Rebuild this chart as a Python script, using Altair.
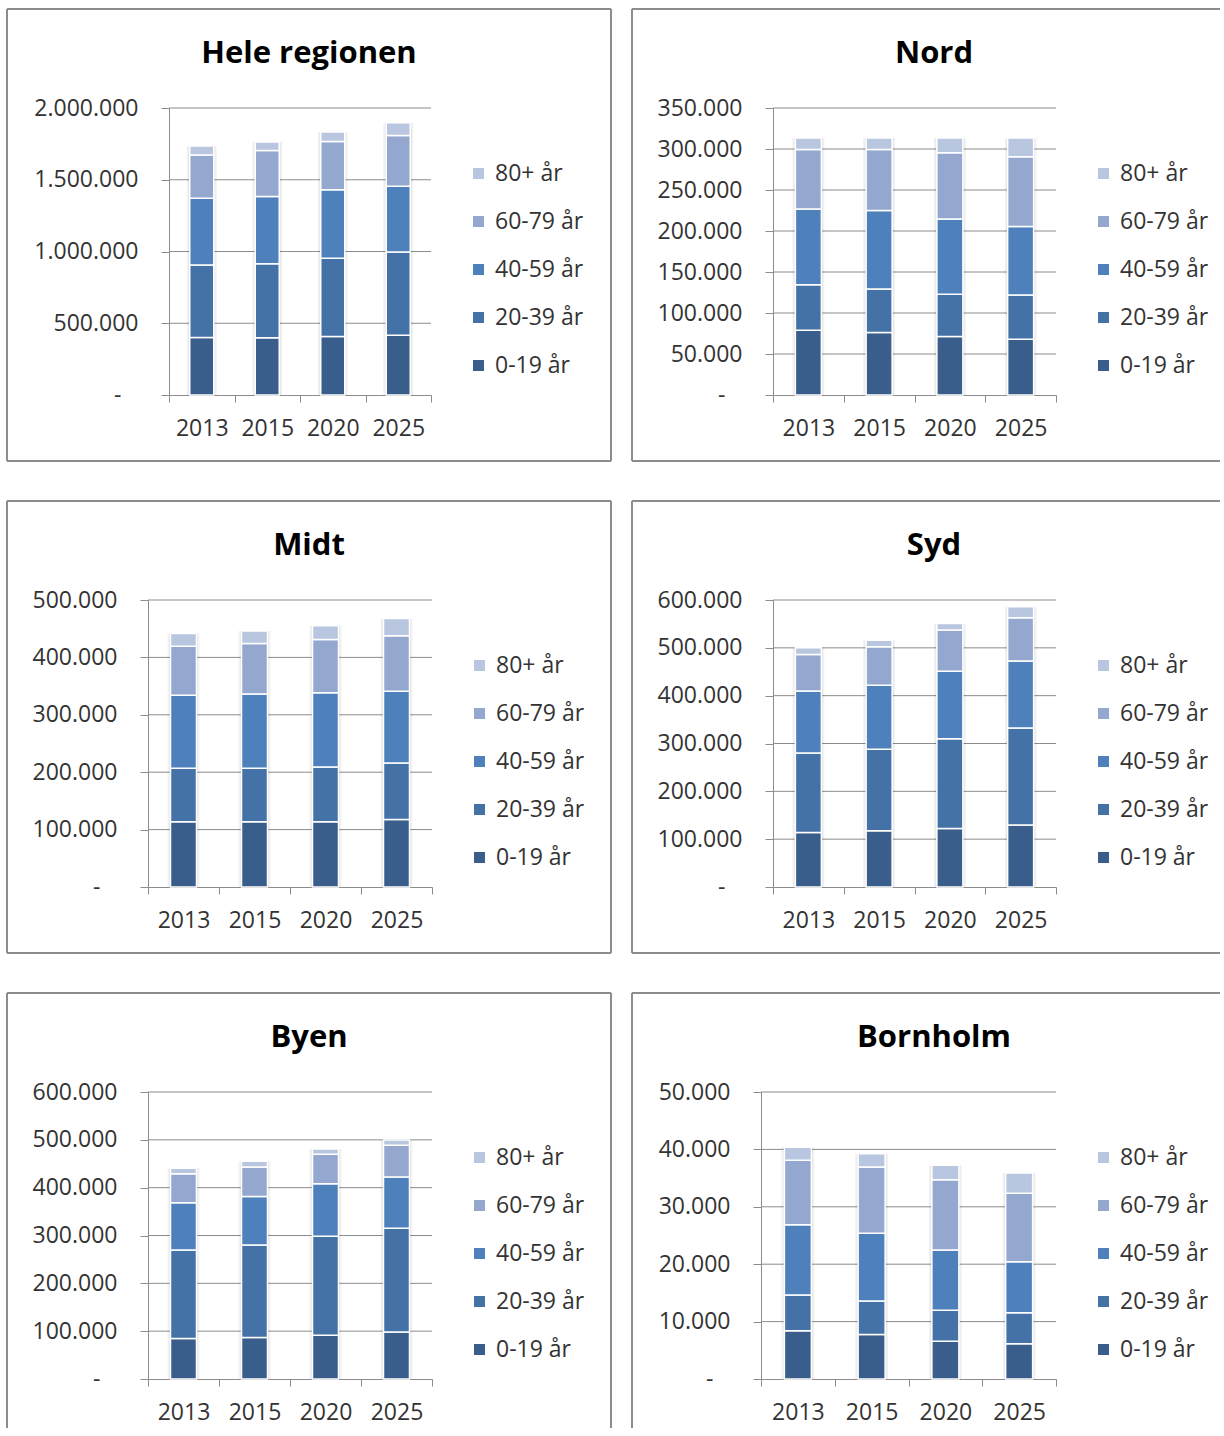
import altair as alt
import pandas as pd

YEARS = ["2013", "2015", "2020", "2025"]
AGES = ["0-19 år", "20-39 år", "40-59 år", "60-79 år", "80+ år"]
LEGEND_ORDER = ["80+ år", "60-79 år", "40-59 år", "20-39 år", "0-19 år"]
COLORS = ["#B9C6E0", "#94A8CF", "#4E80BC", "#4472A7", "#3A5E8B"]

# rows follow AGES (0-19, 20-39, 40-59, 60-79, 80+), columns follow YEARS
HELE = [
    [400500, 398100, 407500, 416800],
    [505200, 516900, 544800, 579700],
    [465700, 468000, 477300, 458700],
    [300300, 321300, 337600, 353900],
    [62900, 58200, 65200, 88500],
]
NORD = [
    [79000, 76200, 71300, 68000],
    [55500, 53000, 51700, 53800],
    [92400, 95700, 91700, 83600],
    [72600, 74600, 80700, 85100],
    [13800, 13800, 17900, 22800],
]
MIDT = [
    [113600, 113600, 113600, 117700],
    [93300, 93300, 95600, 98500],
    [127000, 129300, 129400, 124700],
    [85700, 88000, 92600, 96700],
    [22100, 21600, 23900, 30300],
]
SYD = [
    [114000, 117500, 122400, 129400],
    [166400, 170600, 187400, 202800],
    [129400, 133600, 141200, 140500],
    [76200, 80400, 86100, 90200],
    [14000, 14000, 13900, 23100],
]
BYEN = [
    [84700, 86800, 91700, 98000],
    [184800, 193200, 206500, 217000],
    [98800, 101600, 110000, 107200],
    [60900, 61600, 61600, 66500],
    [11200, 11900, 11200, 11200],
]
BORNHOLM = [
    [8400, 7760, 6590, 6130],
    [6240, 5830, 5370, 5420],
    [12250, 11790, 10500, 8870],
    [11210, 11550, 12250, 11960],
    [2270, 2330, 2510, 3500],
]

TITLES = ["Hele regionen", "Nord", "Midt", "Syd", "Byen", "Bornholm"]
SERIES = [HELE, NORD, MIDT, SYD, BYEN, BORNHOLM]
Y_MAX = [2000000, 350000, 500000, 600000, 600000, 50000]
Y_STEP = [500000, 50000, 100000, 100000, 100000, 10000]

# layout (page pixels): panel box (left, top, right, bottom) and plot box
PANEL_BOX = [
    (7, 9, 611, 461), (632, 9, None, 461),
    (7, 501, 611, 953), (632, 501, None, 953),
    (7, 993, 611, None), (632, 993, None, None),
]
PLOT_BOX = [
    (169, 108, 431, 395), (773, 108, 1056, 395),
    (148, 600, 432, 887), (773, 600, 1056, 887),
    (148, 1092, 432, 1379), (761, 1092, 1056, 1379),
]
PAGE_RIGHT = 1220
PAGE_BOTTOM = 1428
PANEL_W = 604

FONT = "Open Sans"
BORDER = "#8C8C8C"
GRID = "#8C8C8C"
TEXT = "#333333"


def border_rule(x, x2, y, y2):
    return alt.Chart(alt.Data(values=[{"r": 1}])).mark_rule(
        color=BORDER, strokeWidth=2
    ).encode(x=alt.value(x), x2=alt.value(x2), y=alt.value(y), y2=alt.value(y2))


def panel(idx):
    title = TITLES[idx]
    values = SERIES[idx]
    ymax, step = Y_MAX[idx], Y_STEP[idx]
    l, t, r, b = PANEL_BOX[idx]
    x0, y0, x1, y1 = PLOT_BOX[idx]
    # group covers the whole panel; plot area placed inside via scale ranges
    GW = (r if r is not None else PAGE_RIGHT) - l
    GH = (b if b is not None else PAGE_BOTTOM) - t
    px0, px1 = x0 - l, x1 - l
    py0, py1 = y0 - t, y1 - t
    W = px1 - px0

    rows = []
    for i, age in enumerate(AGES):
        for j, yr in enumerate(YEARS):
            rows.append({"year": yr, "age": age, "value": values[i][j], "k": i})
    df = pd.DataFrame(rows)

    size = round(W / 4 * 0.365)
    ticks = list(range(0, ymax + 1, step))

    xscale = alt.Scale(domain=YEARS, range=[px0, px1], paddingInner=0, paddingOuter=0)
    yscale = alt.Scale(domain=[0, ymax], range=[py1, py0], nice=False, zero=True)

    xenc = alt.X(
        "year:N", sort=YEARS, title=None, scale=xscale,
        axis=alt.Axis(
            labelAngle=0, labelFont=FONT, labelFontSize=23, labelColor=TEXT,
            labelPadding=15, tickBand="extent", tickSize=7, tickColor=GRID,
            domainColor=GRID, grid=False, labelBaseline="top",
            offset=-(GH - py1),
        ),
    )
    yaxis = alt.Axis(
        values=ticks, grid=False,
        domainColor=GRID, tickColor=GRID, tickSize=8,
        labelFont=FONT, labelFontSize=23, labelColor=TEXT, labelPadding=23,
        labelExpr="datum.value == 0 ? '-\u2800' : replace(format(datum.value, ','), /,/g, '.')",
        title=None, offset=-px0,
    )

    grid_df = pd.DataFrame({"v": ticks[1:]})
    grid = alt.Chart(grid_df).mark_rule(color=GRID, strokeWidth=1).encode(
        y=alt.Y("v:Q", scale=yscale, axis=yaxis),
        x=alt.value(px0), x2=alt.value(px1),
    )

    base = alt.Chart(df)
    shadow = base.mark_bar(size=size + 6, color="#000000", opacity=0.05).encode(
        x=xenc, y=alt.Y("sum(value):Q", scale=yscale, axis=yaxis)
    )
    shadow2 = base.mark_bar(size=size + 3, color="#000000", opacity=0.05).encode(
        x=xenc, y=alt.Y("sum(value):Q", scale=yscale, axis=yaxis)
    )
    bars = base.mark_bar(size=size, stroke="white", strokeWidth=1.5).encode(
        x=xenc,
        y=alt.Y("value:Q", stack="zero", scale=yscale, axis=yaxis),
        color=alt.Color(
            "age:N",
            scale=alt.Scale(domain=LEGEND_ORDER, range=COLORS),
            legend=alt.Legend(
                orient="none", legendX=px1 + 36, legendY=py0 + 54, title=None,
                symbolType="square", symbolSize=121, symbolStrokeWidth=0,
                labelFont=FONT, labelFontSize=23, labelColor=TEXT,
                rowPadding=24, labelOffset=5, padding=0,
            ),
        ),
        order=alt.Order("k:Q", sort="ascending"),
    )

    title_mark = alt.Chart(alt.Data(values=[{"t": title}])).mark_text(
        font=FONT, fontSize=31, fontWeight="bold", color="#000000",
        align="center", baseline="middle",
    ).encode(text="t:N", x=alt.value(PANEL_W / 2), y=alt.value(45))

    layers = [grid, shadow, shadow2, bars, title_mark,
              border_rule(0, GW, 0, 0),
              border_rule(0, 0, 0, GH)]
    if r is not None:
        layers.append(border_rule(GW, GW, 0, GH))
    if b is not None:
        layers.append(border_rule(0, GW, GH, GH))

    return alt.layer(*layers).properties(width=GW, height=GH)


chart = alt.concat(
    *[panel(i) for i in range(6)],
    columns=2, spacing={"row": 38, "column": 19},
).resolve_scale(
    color="independent"
).resolve_legend(
    color="independent"
).properties(
    padding={"left": 6, "top": 8, "right": 0, "bottom": 0},
    background="white",
).configure_view(stroke=None)

chart.save("out.html", embed_options={"renderer": "svg", "actions": False})
